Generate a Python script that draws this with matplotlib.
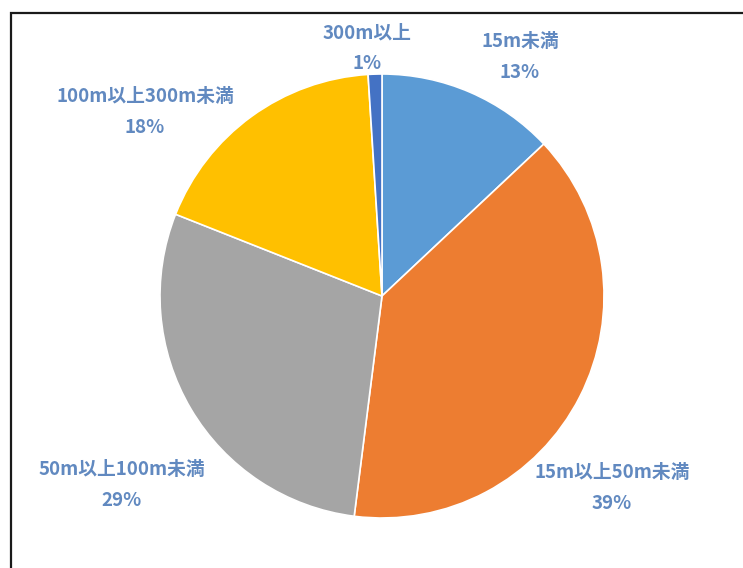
import matplotlib
matplotlib.use("Agg")
import matplotlib.pyplot as plt
from matplotlib.patches import Rectangle

plt.rcParams['font.family'] = ['Noto Sans CJK JP', 'DejaVu Sans']

# share of sites by distance band
categories = ["15m未満", "15m以上50m未満", "50m以上100m未満", "100m以上300m未満", "300m以上"]
shares = [13, 39, 29, 18, 1]
colors = ["#5B9BD5", "#ED7D31", "#A5A5A5", "#FFC000", "#4472C4"]

W, H = 743, 568
cx, cy, r = 382, 296, 222

fig = plt.figure(figsize=(W / 100, H / 100), dpi=100)
ax = fig.add_axes([(cx - r) / W, (H - cy - r) / H, 2 * r / W, 2 * r / H])

wedges, _ = ax.pie(shares, colors=colors, startangle=90, counterclock=False,
                   radius=1.0, wedgeprops=dict(edgecolor="white", linewidth=1.2))
ax.set_xlim(-1, 1)
ax.set_ylim(-1, 1)
ax.axis("off")

# label block centres in pixels
label_px = [(520, 57), (612, 488), (122, 485), (145, 112), (367, 48)]
for name, val, (px, py) in zip(categories, shares, label_px):
    x = (px - cx) / r
    y = (cy - py) / r
    ax.text(x, y, f"{name}\n{val}%", ha="center", va="center", fontsize=13.5,
            fontweight="bold", color="#6189C0", linespacing=1.75,
            clip_on=False)

# outer frame
fig.patches.append(Rectangle((11 / W, -0.05), 1.1, (H - 13) / H + 0.05,
                             transform=fig.transFigure, fill=False,
                             edgecolor="#1a1a1a", linewidth=1.6))

fig.savefig("out.png", dpi=100)
